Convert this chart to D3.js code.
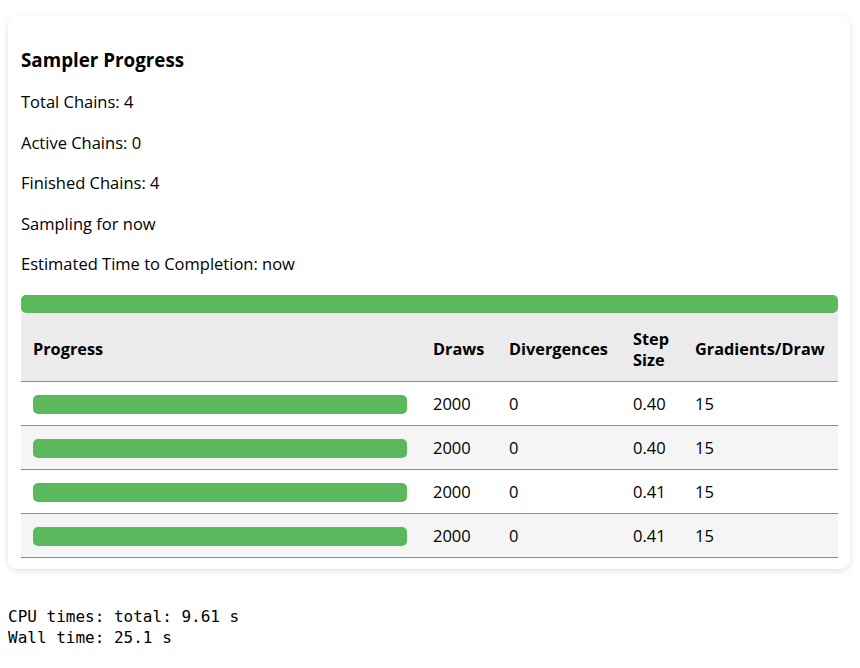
<!DOCTYPE html>
<html>
<head>
<meta charset="utf-8">
<script src="https://cdn.jsdelivr.net/npm/d3@7"></script>
<style>
  body { margin: 0; background: #fff; }
  svg { display: block; }
</style>
</head>
<body>
<div id="plot"></div>
<script>
// sampler summary values
const totalChains = 4,
    activeChains = 0,
    finishedChains = 4,
    elapsed = "now",
    remaining = "now";

// per-chain table
const chains = [1, 2, 3, 4];
const draws = [2000, 2000, 2000, 2000];
const tuneDraws = 2000; // draws needed per chain
const divergences = [0, 0, 0, 0];
const stepSizes = [0.40, 0.40, 0.41, 0.41];
const gradsPerDraw = [15, 15, 15, 15];
const columns = ["Progress", "Draws", "Divergences", "Step Size", "Gradients/Draw"];

const timings = ["CPU times: total: 9.61 s", "Wall time: 25.1 s"];

const width = 860, height = 668;
const sans = "'Segoe UI', 'Open Sans', 'Noto Sans', sans-serif";
const mono = "'DejaVu Sans Mono', monospace";
const green = "#5cb85c";
const fs = 16.5;

const svg = d3.select("#plot")
  .append("svg")
    .attr("width", width)
    .attr("height", height);

// card shadow
const defs = svg.append("defs");
const f = defs.append("filter").attr("id", "shadow")
    .attr("x", "-5%").attr("y", "-5%").attr("width", "110%").attr("height", "110%");
f.append("feDropShadow")
    .attr("dx", 0).attr("dy", 2).attr("stdDeviation", 3)
    .attr("flood-color", "#000").attr("flood-opacity", 0.12);

const card = {x: 8, y: 16, w: 842, h: 553};
svg.append("rect")
    .attr("x", card.x).attr("y", card.y)
    .attr("width", card.w).attr("height", card.h)
    .attr("rx", 10)
    .attr("fill", "#fff")
    .attr("filter", "url(#shadow)");

const left = 21, right = 838;
const g = svg.append("g");

g.append("text")
    .attr("x", left).attr("y", 67)
    .attr("font-family", sans).attr("font-size", 18.8).attr("font-weight", "bold")
    .text("Sampler Progress");

const infoLines = [
  `Total Chains: ${totalChains}`,
  `Active Chains: ${activeChains}`,
  `Finished Chains: ${finishedChains}`,
  `Sampling for ${elapsed}`,
  `Estimated Time to Completion: ${remaining}`
];
const infoY = d3.scalePoint().domain(d3.range(infoLines.length)).range([102, 264]);
g.selectAll("text.info")
  .data(infoLines)
  .join("text")
    .attr("class", "info")
    .attr("x", left)
    .attr("y", (d, i) => infoY(i) + 6)
    .attr("font-family", sans).attr("font-size", fs)
    .text(d => d);

// overall progress bar
const totalDone = d3.sum(draws), totalNeeded = tuneDraws * totalChains;
const overallX = d3.scaleLinear().domain([0, totalNeeded]).range([0, right - left]);
g.append("rect")
    .attr("x", left).attr("y", 295)
    .attr("width", overallX(totalDone)).attr("height", 18)
    .attr("rx", 5)
    .attr("fill", green);

// table
const headTop = 313, headH = 68, rowH = 44;
const colX = d3.scaleOrdinal().domain(columns).range([33, 433, 509, 633, 695]);
const rowY = d3.scaleBand().domain(chains).range([headTop + headH, headTop + headH + rowH * chains.length]);

g.append("rect")
    .attr("x", left).attr("y", headTop)
    .attr("width", right - left).attr("height", headH)
    .attr("fill", "#ebebeb");

const head = g.selectAll("text.head")
  .data(columns)
  .join("text")
    .attr("class", "head")
    .attr("x", d => colX(d))
    .attr("font-family", sans).attr("font-size", 16.3).attr("font-weight", "bold");
head.each(function(d) {
  const t = d3.select(this);
  const parts = d === "Step Size" ? ["Step", "Size"] : [d];
  const mid = headTop + headH / 2 + 8;
  t.selectAll("tspan")
    .data(parts)
    .join("tspan")
      .attr("x", colX(d))
      .attr("y", (p, i) => mid + (i - (parts.length - 1) / 2) * 21)
      .text(p => p);
});

const rows = g.selectAll("g.row")
  .data(chains.map((c, i) => ({
    chain: c, draws: draws[i], div: divergences[i], step: stepSizes[i], grad: gradsPerDraw[i]
  })))
  .join("g")
    .attr("class", "row")
    .attr("transform", d => `translate(0, ${rowY(d.chain)})`);

rows.append("rect")
    .attr("x", left).attr("y", 0)
    .attr("width", right - left).attr("height", rowY.bandwidth())
    .attr("fill", (d, i) => i % 2 ? "#f5f5f5" : "#fff");

const barX = d3.scaleLinear().domain([0, tuneDraws]).range([0, 374]);
rows.append("rect")
    .attr("x", colX("Progress")).attr("y", 14)
    .attr("width", d => barX(d.draws)).attr("height", 19)
    .attr("rx", 5)
    .attr("fill", green);

const cellText = (sel, col, fn) => sel.append("text")
    .attr("x", colX(col)).attr("y", rowH / 2 + 6.5)
    .attr("font-family", sans).attr("font-size", fs)
    .text(fn);
cellText(rows, "Draws", d => d.draws);
cellText(rows, "Divergences", d => d.div);
cellText(rows, "Step Size", d => d3.format(".2f")(d.step));
cellText(rows, "Gradients/Draw", d => d.grad);

// row rules
const rules = [headTop + headH].concat(chains.map(c => rowY(c) + rowY.bandwidth()));
g.selectAll("line.rule")
  .data(rules)
  .join("line")
    .attr("class", "rule")
    .attr("x1", left).attr("x2", right)
    .attr("y1", d => d + 0.5).attr("y2", d => d + 0.5)
    .attr("stroke", "#8c8c8c").attr("stroke-width", 1);

// output below the widget
svg.selectAll("text.out")
  .data(timings)
  .join("text")
    .attr("class", "out")
    .attr("x", 8)
    .attr("y", (d, i) => 622 + i * 21)
    .attr("font-family", mono).attr("font-size", 16)
    .attr("fill", "#000")
    .text(d => d);
</script>
</body>
</html>
